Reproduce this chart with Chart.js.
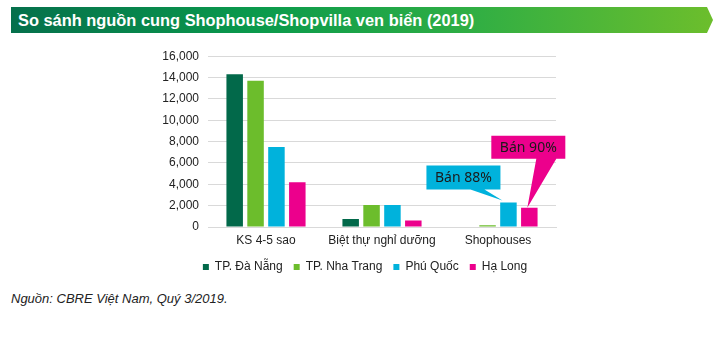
<!DOCTYPE html>
<html>
<head>
<meta charset="utf-8">
<script src="https://cdn.jsdelivr.net/npm/chart.js@4"></script>
<style>
  body { margin: 0; background: #fff; width: 714px; height: 340px; position: relative; overflow: hidden; font-family: "Liberation Sans", Arial, sans-serif; }
  #banner {
    position: absolute; left: 11px; top: 7px; width: 702px; height: 26px;
    background: linear-gradient(to right, #05704c 0%, #0a9a4c 35%, #2fae44 65%, #6cbe2c 100%);
    clip-path: polygon(0 0, 696px 0, 702px 13px, 696px 26px, 0 26px);
  }
  #banner span { position: absolute; left: 7px; top: 4px; color: #fff; font-weight: bold; font-size: 16.4px; }
  #wrap { position: absolute; left: 150px; top: 40px; width: 430px; height: 243px; }
  #source { position: absolute; left: 11px; top: 291px; font-size: 13px; font-style: italic; color: #222; }
</style>
</head>
<body>
<div id="banner"><span>So sánh nguồn cung Shophouse/Shopvilla ven biển (2019)</span></div>
<div id="wrap"><canvas id="c"></canvas></div>
<div id="source">Nguồn: CBRE Việt Nam, Quý 3/2019.</div>
<script>
const categories = ['KS 4-5 sao', 'Biệt thự nghỉ dưỡng', 'Shophouses']
const daNang = [14300, 750, 0]
const nhaTrang = [13700, 2050, 160]
const phuQuoc = [7500, 2050, 2300]
const haLong = [4200, 600, 1800]
const yTicks = [0, 2000, 4000, 6000, 8000, 10000, 12000, 14000, 16000]

// sold-share callouts: [dataset index, category index, text]
const callouts = [
    [2, 2, 'Bán 88%'],
    [3, 2, 'Bán 90%']
]

const colors = ['#02694a', '#6cbd2c', '#00b2dc', '#ec008c']

// box / pointer offsets from the bar's top centre
const calloutShapes = [
    { l: -82, r: -8, t: -37, b: -13, b1: -38, b2: -24, tx: -6, ty: -2 },
    { l: -38, r: 36, t: -72, b: -49, b1: 7, b2: 27, tx: -2, ty: 0 }
]

const calloutPlugin = {
    id: 'callouts',
    afterDatasetsDraw(chart) {
        const ctx = chart.ctx
        callouts.forEach((c, k) => {
            const bar = chart.getDatasetMeta(c[0]).data[c[1]]
            const s = calloutShapes[k]
            const x = bar.x, y = bar.y
            ctx.save()
            ctx.fillStyle = colors[c[0]]
            ctx.beginPath()
            ctx.moveTo(x + s.l, y + s.t)
            ctx.lineTo(x + s.r, y + s.t)
            ctx.lineTo(x + s.r, y + s.b)
            ctx.lineTo(x + s.b2, y + s.b)
            ctx.lineTo(x + s.tx, y + s.ty)
            ctx.lineTo(x + s.b1, y + s.b)
            ctx.lineTo(x + s.l, y + s.b)
            ctx.closePath()
            ctx.fill()
            ctx.fillStyle = '#1a1a1a'
            ctx.font = '14px "Noto Sans"'
            ctx.textAlign = 'center'
            ctx.textBaseline = 'middle'
            ctx.fillText(c[2], x + (s.l + s.r) / 2, y + (s.t + s.b) / 2 + 1)
            ctx.restore()
        })
    }
}

const ds = (label, data, i) => ({
    label: label,
    data: data,
    backgroundColor: colors[i],
    borderWidth: 0,
    categoryPercentage: 0.72,
    barPercentage: 0.79
})

new Chart(document.getElementById('c'), {
    type: 'bar',
    data: {
        labels: categories,
        datasets: [
            ds('TP. Đà Nẵng', daNang, 0),
            ds('TP. Nha Trang', nhaTrang, 1),
            ds('Phú Quốc', phuQuoc, 2),
            ds('Hạ Long', haLong, 3)
        ]
    },
    options: {
        responsive: true,
        maintainAspectRatio: false,
        animation: false,
        layout: { padding: { top: 11, right: 0, bottom: 0, left: 0 } },
        plugins: {
            title: { display: false },
            tooltip: { enabled: false },
            legend: {
                position: 'bottom',
                labels: {
                    boxWidth: 6,
                    boxHeight: 6,
                    padding: 11,
                    color: '#222',
                    font: { family: '"Liberation Sans", Arial', size: 12 }
                }
            }
        },
        scales: {
            x: {
                grid: { display: false },
                border: { display: true, color: '#d9d9d9', width: 1 },
                afterFit(axis) { axis.height = 23 },
                ticks: { color: '#222', padding: 0, font: { family: '"Liberation Sans", Arial', size: 12, lineHeight: 1 } }
            },
            y: {
                min: 0,
                max: 16000,
                afterBuildTicks(axis) { axis.ticks = yTicks.map(v => ({ value: v })) },
                afterFit(axis) { axis.width = 58 },
                grid: { color: '#d9d9d9', drawTicks: false },
                border: { display: false },
                ticks: {
                    color: '#222',
                    padding: 9,
                    font: { family: '"Liberation Sans", Arial', size: 12 },
                    callback: v => v.toLocaleString('en-US')
                }
            },
            // empty right-hand axis, only keeps space after the last group
            y2: {
                position: 'right',
                grid: { display: false },
                border: { display: false },
                ticks: { display: false },
                afterFit(axis) { axis.width = 24 }
            }
        }
    },
    plugins: [calloutPlugin]
})
</script>
</body>
</html>
